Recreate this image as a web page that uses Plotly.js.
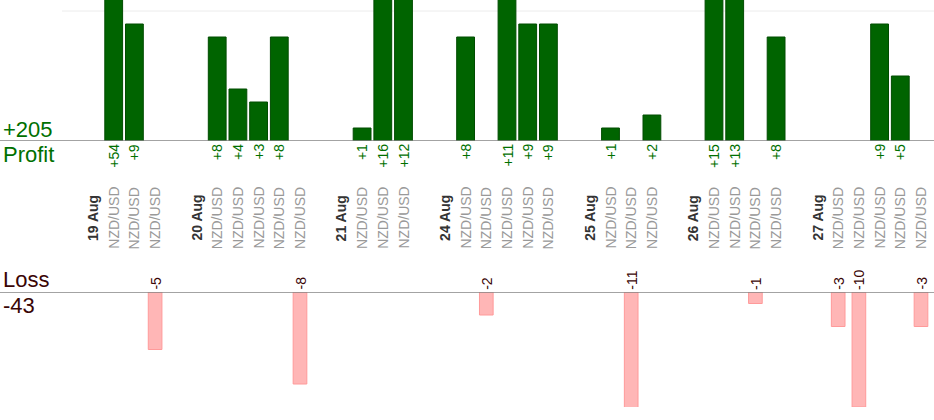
<!DOCTYPE html>
<html>
<head>
<meta charset="utf-8">
<script src="https://cdn.plot.ly/plotly-3.0.1.min.js"></script>
<style>
  html, body { margin: 0; padding: 0; background: #fff; }
  #chart { width: 934px; height: 420px; }
</style>
</head>
<body>
<div id="chart"></div>
<script>
"use strict";

// one slot per column, "" slots are the gaps between days
var categories = [
    "19 Aug", "NZD/USD", "NZD/USD", "NZD/USD", "",
    "20 Aug", "NZD/USD", "NZD/USD", "NZD/USD", "NZD/USD", "NZD/USD", "",
    "21 Aug", "NZD/USD", "NZD/USD", "NZD/USD", "",
    "24 Aug", "NZD/USD", "NZD/USD", "NZD/USD", "NZD/USD", "NZD/USD", "",
    "25 Aug", "NZD/USD", "NZD/USD", "NZD/USD", "",
    "26 Aug", "NZD/USD", "NZD/USD", "NZD/USD", "NZD/USD", "",
    "27 Aug", "NZD/USD", "NZD/USD", "NZD/USD", "NZD/USD", "NZD/USD"
];
var dateLabels = ["19 Aug", "20 Aug", "21 Aug", "24 Aug", "25 Aug", "26 Aug", "27 Aug"];

var profit = [
    null, 54, 9, null, null,
    null, 8, 4, 3, 8, null, null,
    null, 1, 16, 12, null,
    null, 8, null, 11, 9, 9, null,
    null, 1, null, 2, null,
    null, 15, 13, null, 8, null,
    null, null, null, 9, 5, null
];
var loss = [
    null, null, null, -5, null,
    null, null, null, null, null, -8, null,
    null, null, null, null, null,
    null, null, -2, null, null, null, null,
    null, null, -11, null, null,
    null, null, null, -1, null, null,
    null, -3, -10, null, null, -3
];

var slots = categories.map(function(c, i) { return i; });
var totalProfit = profit.reduce(function(s, v) { return s + (v || 0); }, 0);
var totalLoss = loss.reduce(function(s, v) { return s + (v || 0); }, 0);

var FONT = "Liberation Sans, Arial, sans-serif";
var GREEN = "#007000";
var DARK = "#3a0505";

var data = [{
    type: "bar",
    x: slots,
    y: profit,
    width: 0.86,
    marker: { color: "#006400", line: { color: "#004c00", width: 1 } },
    hoverinfo: "none",
    xaxis: "x",
    yaxis: "y"
}, {
    type: "bar",
    x: slots,
    y: loss,
    width: 0.66,
    marker: { color: "#ffb6b6", line: { color: "#ff9a9a", width: 1 } },
    hoverinfo: "none",
    xaxis: "x",
    yaxis: "y2"
}];

var annotations = [];

// value labels under the profit baseline / above the loss baseline
slots.forEach(function(i) {
    if (profit[i] !== null) {
        annotations.push({
            xref: "x", yref: "y", x: i, y: 0,
            text: "+" + profit[i], textangle: -90,
            xanchor: "center", yanchor: "top", yshift: -1,
            showarrow: false,
            font: { family: FONT, size: 14, color: GREEN }
        });
    }
    if (loss[i] !== null) {
        annotations.push({
            xref: "x", yref: "y2", x: i, y: 0,
            text: String(loss[i]), textangle: -90,
            xanchor: "center", yanchor: "bottom", yshift: 0,
            showarrow: false,
            font: { family: FONT, size: 14, color: DARK }
        });
    }
    if (categories[i] !== "") {
        var isDate = dateLabels.indexOf(categories[i]) >= 0;
        annotations.push({
            xref: "x", yref: "paper", x: i, y: 1 - 218 / 420,
            text: isDate ? "<b>" + categories[i] + "</b>" : categories[i],
            textangle: -90,
            xanchor: "center", yanchor: "middle",
            showarrow: false,
            font: { family: FONT, size: 14, color: isDate ? "#333" : "#999" }
        });
    }
});

// totals on the left
annotations.push(
    { xref: "paper", yref: "y", x: 0, y: 0, xanchor: "left", yanchor: "bottom", xshift: 1, yshift: -3,
      text: "+" + totalProfit, showarrow: false, font: { family: FONT, size: 22, color: GREEN } },
    { xref: "paper", yref: "y", x: 0, y: 0, xanchor: "left", yanchor: "top", xshift: 1, yshift: 1,
      text: "Profit", showarrow: false, font: { family: FONT, size: 22, color: GREEN } },
    { xref: "paper", yref: "y2", x: 0, y: 0, xanchor: "left", yanchor: "bottom", xshift: 1, yshift: -2,
      text: "Loss", showarrow: false, font: { family: FONT, size: 22, color: DARK } },
    { xref: "paper", yref: "y2", x: 0, y: 0, xanchor: "left", yanchor: "top", xshift: 1, yshift: 1,
      text: String(totalLoss), showarrow: false, font: { family: FONT, size: 22, color: DARK } }
);

var layout = {
    width: 934,
    height: 420,
    margin: { l: 0, r: 0, t: 0, b: 0 },
    paper_bgcolor: "#fff",
    plot_bgcolor: "rgba(0,0,0,0)",
    showlegend: false,
    barmode: "overlay",
    xaxis: {
        range: [-93 / 20.7, (934 - 93) / 20.7],
        visible: false,
        fixedrange: true
    },
    yaxis: {
        domain: [1 - 141 / 420, 1],
        range: [0, 141 / 13],
        visible: false,
        fixedrange: true
    },
    yaxis2: {
        domain: [1 - 407 / 420, 1 - 292 / 420],
        range: [-10, 0],
        visible: false,
        anchor: "x",
        fixedrange: true
    },
    shapes: [
        // light grid line at +10 in the profit panel
        { type: "line", xref: "x", yref: "y", x0: -1.5, x1: 41, y0: 10, y1: 10,
          line: { color: "#ececec", width: 1 }, layer: "below" },
        // baselines
        { type: "line", xref: "paper", yref: "y", x0: 0, x1: 1, y0: 0, y1: 0,
          line: { color: "#858585", width: 1.5 } },
        { type: "line", xref: "paper", yref: "y2", x0: 0, x1: 1, y0: 0, y1: 0,
          line: { color: "#858585", width: 1.5 } }
    ],
    annotations: annotations
};

Plotly.newPlot("chart", data, layout, { staticPlot: true, displayModeBar: false });
</script>
</body>
</html>
